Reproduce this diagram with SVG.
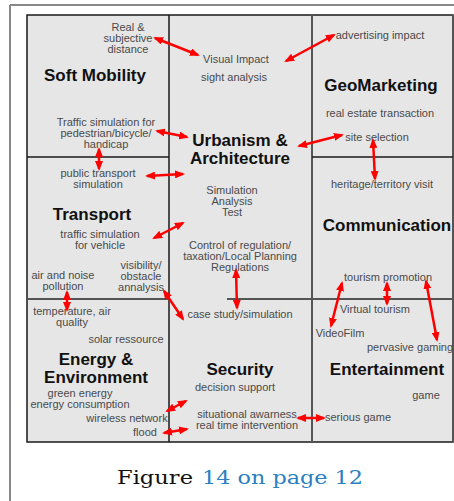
<svg xmlns="http://www.w3.org/2000/svg" width="454" height="501" viewBox="0 0 454 501">
<style>
.s{font-family:"Liberation Sans",Arial,sans-serif;font-size:11px;fill:#4a4a4a;text-anchor:middle}
.t{font-family:"Liberation Sans",Arial,sans-serif;font-size:17px;font-weight:bold;fill:#111;text-anchor:middle}
.cell{fill:#e6e6e6;stroke:none}
.bk{stroke:#1a1a1a;stroke-width:1.5;fill:none}
.gr{stroke:#555;stroke-width:2;fill:none}
.a{stroke:#f00;stroke-width:2.5;fill:none;marker-start:url(#ah);marker-end:url(#ah)}
.cap{font-family:"DejaVu Serif","Liberation Serif",serif;font-size:19px}
</style>
<defs>
<marker id="ah" viewBox="0 0 10 8" refX="8" refY="4" markerWidth="10" markerHeight="8" markerUnits="userSpaceOnUse" orient="auto-start-reverse">
<path d="M0,0 L10,4 L0,8 z" fill="#f00"/>
</marker>
</defs>
<rect x="0" y="0" width="454" height="501" fill="#fff"/>
<g id="frame">
<line x1="10" y1="5" x2="454" y2="5" stroke="#888" stroke-width="2"/>
<line x1="10" y1="5" x2="10" y2="501" stroke="#888" stroke-width="2"/>
</g>
<g id="grid">
<rect class="cell" x="27" y="15" width="426" height="427"/>
<rect class="bk" x="27" y="15" width="426" height="427"/>
<line class="gr" x1="453" y1="15" x2="453" y2="442"/>
<line class="bk" x1="169" y1="15" x2="169" y2="442"/>
<line class="gr" x1="312" y1="15" x2="312" y2="442"/>
<line class="bk" x1="27" y1="157" x2="169" y2="157"/>
<line class="bk" x1="312" y1="157" x2="453" y2="157"/>
<line class="gr" x1="27" y1="299" x2="169" y2="299"/>
<line class="gr" x1="227" y1="299" x2="453" y2="299"/>
</g>
<g id="soft-mobility">
<text class="s" x="128" y="31">Real &amp;</text>
<text class="s" x="128" y="42">subjective</text>
<text class="s" x="128" y="53">distance</text>
<text class="t" x="95" y="81">Soft Mobility</text>
<text class="s" x="106" y="126">Traffic simulation for</text>
<text class="s" x="106" y="137">pedestrian/bicycle/</text>
<text class="s" x="106" y="148">handicap</text>
</g>
<g id="urbanism">
<text class="s" x="236" y="63">Visual Impact</text>
<text class="s" x="234" y="81">sight analysis</text>
<text class="t" x="240" y="146">Urbanism &amp;</text>
<text class="t" x="240" y="164">Architecture</text>
<text class="s" x="232" y="194">Simulation</text>
<text class="s" x="232" y="205">Analysis</text>
<text class="s" x="232" y="216">Test</text>
<text class="s" x="240" y="249">Control of regulation/</text>
<text class="s" x="240" y="260">taxation/Local Planning</text>
<text class="s" x="240" y="271">Regulations</text>
</g>
<g id="geomarketing">
<text class="s" x="380" y="39">advertising impact</text>
<text class="t" x="381" y="91">GeoMarketing</text>
<text class="s" x="380" y="117">real estate transaction</text>
<text class="s" x="377" y="141">site selection</text>
</g>
<g id="transport">
<text class="s" x="98" y="177">public transport</text>
<text class="s" x="98" y="188">simulation</text>
<text class="t" x="92" y="220">Transport</text>
<text class="s" x="100" y="238">traffic simulation</text>
<text class="s" x="100" y="249">for vehicle</text>
<text class="s" x="141" y="269">visibility/</text>
<text class="s" x="141" y="280">obstacle</text>
<text class="s" x="141" y="291">annalysis</text>
<text class="s" x="63" y="279">air and noise</text>
<text class="s" x="63" y="290">pollution</text>
</g>
<g id="communication">
<text class="s" x="382" y="188">heritage/territory visit</text>
<text class="t" x="387" y="231">Communication</text>
<text class="s" x="388" y="281">tourism promotion</text>
</g>
<g id="energy">
<text class="s" x="72" y="315">temperature, air</text>
<text class="s" x="72" y="326">quality</text>
<text class="s" x="126" y="343">solar ressource</text>
<text class="t" x="96" y="365">Energy &amp;</text>
<text class="t" x="96" y="383">Environment</text>
<text class="s" x="80" y="397">green energy</text>
<text class="s" x="80" y="408">energy consumption</text>
<text class="s" x="127" y="422">wireless network</text>
<text class="s" x="145" y="436">flood</text>
</g>
<g id="security">
<text class="s" x="240" y="318">case study/simulation</text>
<text class="t" x="240" y="375">Security</text>
<text class="s" x="235" y="391">decision support</text>
<text class="s" x="247" y="418">situational awarness</text>
<text class="s" x="247" y="429">real time intervention</text>
</g>
<g id="entertainment">
<text class="s" x="375" y="313">Virtual tourism</text>
<text class="s" x="340" y="337">VideoFilm</text>
<text class="s" x="410" y="351">pervasive gaming</text>
<text class="t" x="387" y="375">Entertainment</text>
<text class="s" x="426" y="399">game</text>
<text class="s" x="358" y="421">serious game</text>
</g>
<g id="connectors">
<line class="a" x1="155" y1="38" x2="198" y2="55"/>
<line class="a" x1="334" y1="35" x2="286" y2="61"/>
<line class="a" x1="157" y1="131" x2="187" y2="137"/>
<line class="a" x1="342" y1="135" x2="299" y2="146"/>
<line class="a" x1="373" y1="140" x2="375" y2="179"/>
<line class="a" x1="99" y1="149" x2="99" y2="169"/>
<line class="a" x1="147" y1="176" x2="183" y2="174"/>
<line class="a" x1="154" y1="238" x2="183" y2="223"/>
<line class="a" x1="236" y1="270" x2="237" y2="308"/>
<line class="a" x1="164" y1="291" x2="183" y2="319"/>
<line class="a" x1="67" y1="292" x2="67" y2="310"/>
<line class="a" x1="167" y1="411" x2="186" y2="401"/>
<line class="a" x1="164" y1="433" x2="187" y2="429"/>
<line class="a" x1="298" y1="418" x2="324" y2="418"/>
<line class="a" x1="342" y1="283" x2="331" y2="326"/>
<line class="a" x1="387" y1="283" x2="387" y2="304"/>
<line class="a" x1="426" y1="281" x2="437" y2="340"/>
</g>
<g id="caption">
<text class="cap" x="117" y="484" fill="#111" textLength="76" lengthAdjust="spacingAndGlyphs">Figure</text>
<text class="cap" x="202" y="484" fill="#2a7fc1" textLength="161" lengthAdjust="spacingAndGlyphs">14 on page 12</text>
</g>
</svg>
